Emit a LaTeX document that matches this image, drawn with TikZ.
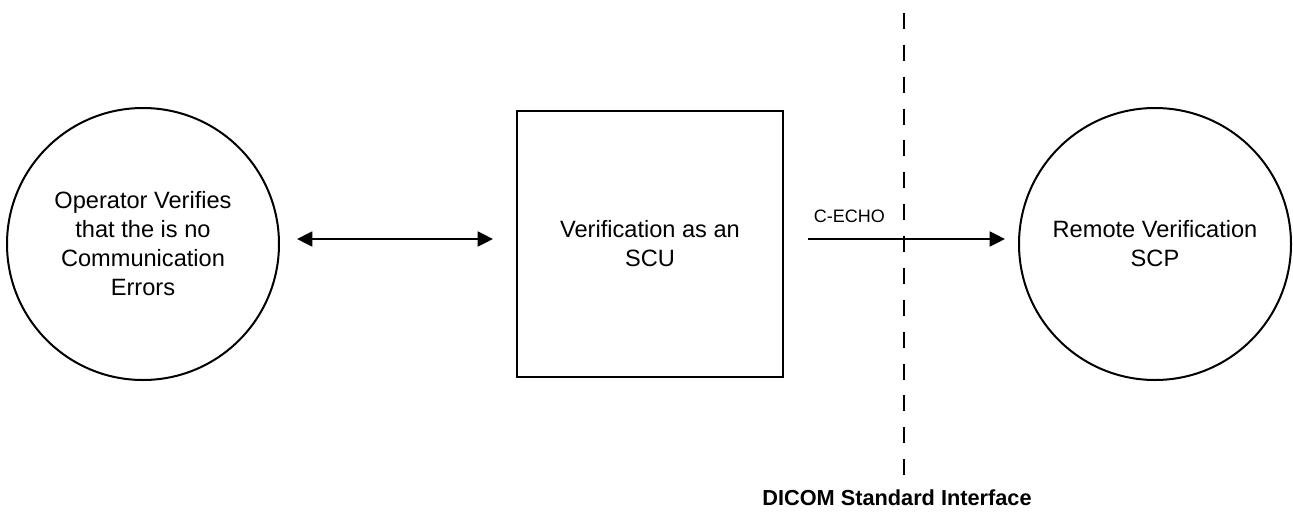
\documentclass[tikz,border=0pt]{standalone}
\usepackage{fontspec}
\setmainfont{Liberation Sans}
\usetikzlibrary{arrows.meta}
\newcommand{\diagfont}{\fontsize{17.7pt}{21.75pt}\selectfont}
\newcommand{\lblfont}{\fontsize{13.5pt}{16pt}\selectfont}
\newcommand{\ifcfont}{\fontsize{16.3pt}{19pt}\selectfont\bfseries}
\begin{document}
\begin{tikzpicture}[x=0.75pt,y=-0.75pt,
  proc/.style={circle, draw, line width=1.5pt, minimum size=204pt, inner sep=0pt, align=center, font=\diagfont},
  boxnode/.style={rectangle, draw, line width=1.5pt, minimum width=199.5pt, minimum height=199pt, inner sep=0pt, align=center, font=\diagfont},
  conn/.style={line width=1.5pt, -{Triangle[length=11.5pt,width=11.2pt]}},
  biconn/.style={line width=1.5pt, {Triangle[length=11.5pt,width=11.2pt]}-{Triangle[length=11.5pt,width=11.2pt]}},
  boundary/.style={line width=1.5pt, dash pattern=on 12pt off 11.9pt},
]
\useasboundingbox (0,0) rectangle (1293,511);

\node[proc] (op) at (143,244) {Operator Verifies\\that the is no\\Communication\\Errors};
\node[boxnode] (scu) at (650,244) {Verification as an\\SCU};
\node[proc] (scp) at (1155,244) {Remote Verification\\SCP};

\draw[biconn] ([shift={(17,-5)}]op.east) -- ([shift={(-23,-5)}]scu.west);
\draw[conn] ([shift={(24,-5)}]scu.east) -- ([shift={(-13,-5)}]scp.west)
  node[pos=0.21, anchor=base, yshift=12.75pt, font=\lblfont] (echo) {C-ECHO};

\coordinate (dtop) at (904,13);
\coordinate (dbot) at (904,475);
\draw[boundary] (dtop) -- (dbot);
\node[anchor=base, font=\ifcfont] (dicom) at (897,505) {DICOM Standard Interface};
\end{tikzpicture}
\end{document}
